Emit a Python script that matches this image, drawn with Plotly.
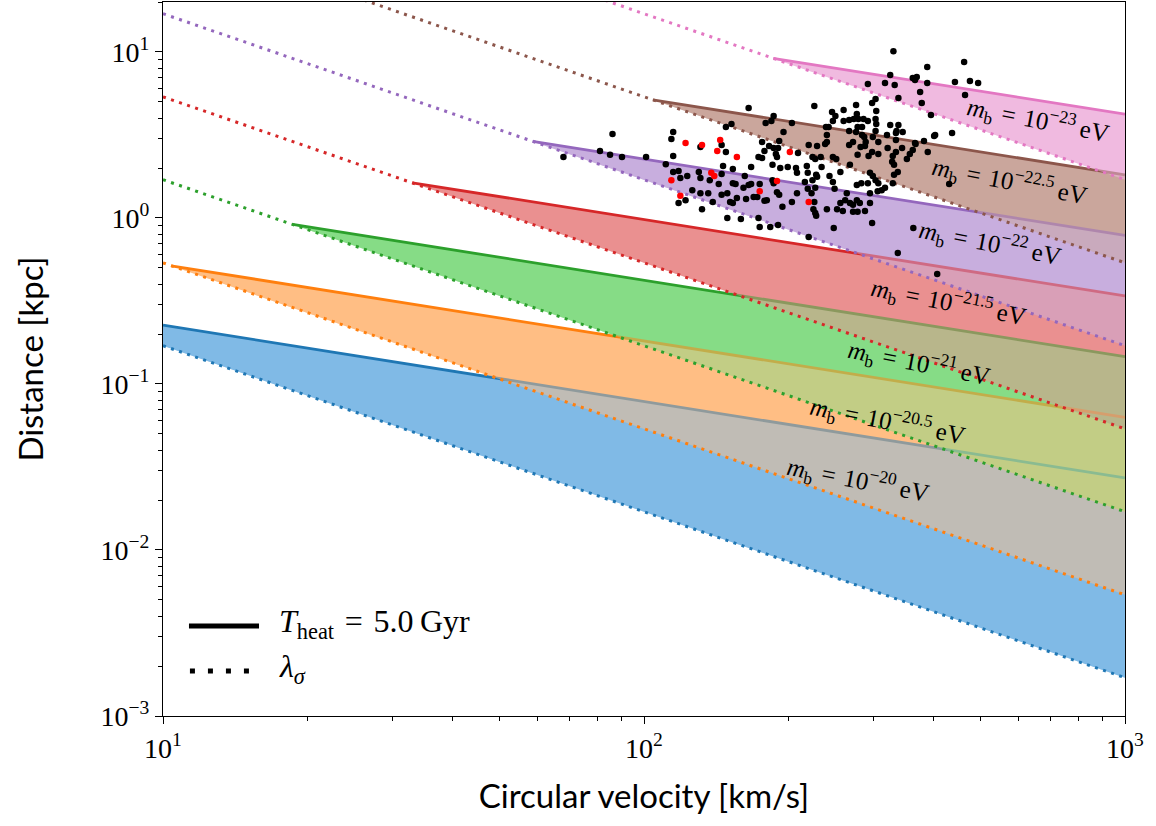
import numpy as np
import plotly.graph_objects as go

# ---------------- data ----------------
mass_exponents = ["−20", "−20.5", "−21", "−21.5", "−22", "−22.5", "−23"]
line_colors = ["#1f77b4", "#ff7f0e", "#2ca02c", "#d62728", "#9467bd", "#8c564b", "#e377c2"]
fill_colors = [(128, 186, 230), (255, 190, 132), (134, 220, 134), (234, 144, 144),
               (200, 174, 222), (202, 166, 156), (240, 186, 224)]

v_min, v_max = 10.0, 1000.0
# T_heat = 5 Gyr curve: start point and value at v = 1000 km/s
v_heat_start = [10.0, 10.4, 18.6, 33.0, 58.7, 104.3, 185.6]
r_heat_start = [0.226, 0.515, 0.915, 1.63, 2.89, 5.15, 9.15]
r_heat_end = [0.0272, 0.063, 0.146, 0.339, 0.785, 1.82, 4.22]
# lambda_sigma curve: values at v = 10 and v = 1000 km/s
r_lambda_10 = [0.170, 0.537, 1.70, 5.37, 17.0, 53.7, 170.0]
r_lambda_1000 = [0.0017, 0.00537, 0.017, 0.0537, 0.170, 0.537, 1.70]
# lambda_sigma value at the start of each band
r_lambda_start = [0.170, 0.515, 0.915, 1.63, 2.89, 5.15, 9.15]

# label positions
label_v = [279, 321, 373, 429, 524, 574, 659]
label_r = [0.0264, 0.0598, 0.134, 0.312, 0.707, 1.67, 3.89]

# galaxies
black_v = [68, 81, 85, 90, 101, 115, 86, 115, 114, 131, 145, 148, 148, 152, 165, 173,
           330, 388, 463, 325, 362, 369, 366, 292, 317, 332, 388, 443, 476, 495, 375, 338, 378, 465,
           303, 298, 276, 226, 395, 304, 260, 246,
           186, 184, 179, 203, 250, 277, 267, 260, 273, 279, 247, 286, 292, 303, 304, 242, 239, 325,
           338, 284, 278, 276, 267, 303, 335, 345, 334, 240, 320, 195, 284, 287, 299, 403, 437, 334,
           382, 191, 176, 240, 238, 272, 307, 289, 288, 220, 229, 367, 267, 282, 321, 344, 182, 186,
           190, 178, 188, 209, 389, 362, 298, 307, 278, 293, 329, 224, 233, 247, 251, 189, 357,
           227, 328, 331, 334, 176, 185, 167, 192, 199, 207, 218, 234, 208, 219, 228, 256, 268, 185,
           186, 174, 167, 216, 224, 229, 247, 243, 277, 283, 295, 299, 303, 292, 307, 329, 337, 331,
           431, 172, 178, 180, 189, 191, 208, 223, 227, 219, 249, 264, 295, 306, 317, 312, 203, 194,
           226, 225, 227, 228, 240, 256, 262, 268, 277, 281, 272, 252, 259, 272, 278, 288, 295,
           173, 174, 183, 190, 248, 298, 220, 337, 407, 363,
           111, 146, 153, 115, 118, 119, 123, 130, 131, 137, 145, 162, 143, 153, 155, 165, 161, 126,
           131, 136, 145, 149, 156, 163, 169, 122, 118, 139, 151, 153, 132, 149, 159,
           366, 352, 401]
black_r = [2.33, 2.53, 2.40, 2.33, 2.33, 2.36, 3.21, 3.30, 2.99, 2.68, 2.75, 2.50, 3.53, 3.68, 4.60, 2.33,
           10.1, 8.12, 8.71, 7.27, 6.97, 7.07, 6.78, 6.42, 6.51, 6.33, 6.51, 6.60, 6.69, 6.51, 5.74, 5.28, 4.93, 5.51,
           5.21, 4.93, 4.79, 4.73, 4.17, 4.41, 4.47, 4.35,
           4.12, 3.84, 3.74, 3.74, 4.12, 4.23, 3.89, 3.84, 3.95, 3.95, 3.84, 3.95, 3.84, 3.95, 3.68, 3.53, 3.53, 3.63,
           3.63, 3.53, 3.53, 3.30, 3.34, 3.34, 3.34, 3.30, 3.25, 3.16, 3.16, 3.30, 3.16, 3.08, 3.08, 3.16, 3.25, 2.95,
           2.91, 2.91, 2.87, 2.87, 2.79, 2.87, 2.87, 2.87, 2.71, 2.75, 2.71, 2.79, 2.75, 2.68, 2.64, 2.64, 2.71, 2.64,
           2.64, 2.53, 2.43, 2.46, 2.50, 2.57, 2.50, 2.43, 2.40, 2.36, 2.36, 2.33, 2.33, 2.33, 2.27, 2.33, 2.43,
           2.27, 2.18, 2.09, 2.50, 2.30, 2.09, 2.03, 2.00, 2.03, 2.00, 2.06, 2.03, 1.87, 1.87, 1.82, 1.89, 2.09, 1.69,
           1.62, 1.60, 1.60, 1.65, 1.69, 1.77, 1.65, 1.79, 1.58, 1.62, 1.87, 1.79, 1.69, 1.62, 1.62, 1.62, 1.89, 1.82,
           1.60, 1.34, 1.27, 1.28, 1.43, 1.38, 1.41, 1.41, 1.52, 1.50, 1.50, 1.41, 1.41, 1.45, 1.52, 1.47, 1.25, 1.17,
           1.25, 1.13, 1.07, 1.03, 1.13, 1.23, 1.28, 1.23, 1.28, 1.23, 1.20, 1.13, 1.10, 1.09, 1.09, 1.10, 1.23,
           1.00, 0.883, 0.883, 0.908, 0.871, 0.933, 0.768, 0.615, 0.460, 0.871,
           2.11, 2.06, 1.97, 1.89, 1.92, 1.74, 1.79, 1.89, 1.74, 1.69, 1.84, 1.79, 1.60, 1.62, 1.60, 1.58, 1.52, 1.47,
           1.41, 1.41, 1.38, 1.41, 1.32, 1.30, 1.34, 1.28, 1.23, 1.25, 1.25, 1.23, 1.13, 1.00, 0.986,
           2.83, 2.27, 3.12]
red_v = [122, 144, 132, 142, 156, 201, 189, 174, 220, 114, 138, 140, 119]
red_r = [2.83, 2.95, 2.75, 2.53, 2.33, 2.50, 1.67, 1.45, 1.25, 1.69, 1.87, 1.79, 1.36]

# ---------------- figure ----------------
SERIF = "Liberation Serif, Times New Roman, serif"
SANS = "Lato, Roboto, sans-serif"
SP = "\u2004"
THIN = "\u2009"

fig = go.Figure()
n = len(line_colors)


def band_polygon(k):
    xs = [v_heat_start[k], v_max, v_max, v_heat_start[k]]
    ys = [r_heat_start[k], r_heat_end[k], r_lambda_1000[k], r_lambda_start[k]]
    return xs, ys


def log_poly(k):
    xs, ys = band_polygon(k)
    return [(np.log10(a), np.log10(b)) for a, b in zip(xs, ys)]


def signed_area(p):
    return 0.5 * sum(p[i][0] * p[(i + 1) % len(p)][1] - p[(i + 1) % len(p)][0] * p[i][1]
                     for i in range(len(p)))


def clip(subject, clipper):
    # Sutherland-Hodgman for convex clipper
    if not subject:
        return []
    sgn = 1 if signed_area(clipper) > 0 else -1
    out = subject
    for i in range(len(clipper)):
        a, b = clipper[i], clipper[(i + 1) % len(clipper)]

        def inside(p):
            return sgn * ((b[0] - a[0]) * (p[1] - a[1]) - (b[1] - a[1]) * (p[0] - a[0])) >= 0

        def inter(p, q):
            x1, y1, x2, y2 = p[0], p[1], q[0], q[1]
            x3, y3, x4, y4 = a[0], a[1], b[0], b[1]
            den = (x1 - x2) * (y3 - y4) - (y1 - y2) * (x3 - x4)
            t = ((x1 - x3) * (y3 - y4) - (y1 - y3) * (x3 - x4)) / den
            return (x1 + t * (x2 - x1), y1 + t * (y2 - y1))

        inp = out
        out = []
        if not inp:
            break
        s = inp[-1]
        for e in inp:
            if inside(e):
                if not inside(s):
                    out.append(inter(s, e))
                out.append(e)
            elif inside(s):
                out.append(inter(s, e))
            s = e
    return out


# triple overlaps: there the colour shows only the two top bands
corrections = {k: [] for k in range(n)}
for i in range(n):
    for j in range(i + 1, n):
        for k in range(j + 1, n):
            p = clip(clip(log_poly(i), log_poly(j)), log_poly(k))
            if len(p) >= 3 and abs(signed_area(p)) > 1e-6:
                corrections[i].append((p, j))

# opaque base layers (lowest band on top)
for k in reversed(range(n)):
    xs, ys = band_polygon(k)
    c = fill_colors[k]
    fig.add_trace(go.Scatter(x=xs + xs[:1], y=ys + ys[:1], mode="lines", fill="toself",
                             fillcolor=f"rgb({c[0]},{c[1]},{c[2]})",
                             line=dict(width=0), hoverinfo="skip", showlegend=False))

# translucent layers + lines, in band order
for k in range(n):
    xs, ys = band_polygon(k)
    c = fill_colors[k]
    fig.add_trace(go.Scatter(x=xs + xs[:1], y=ys + ys[:1], mode="lines", fill="toself",
                             fillcolor=f"rgba({c[0]},{c[1]},{c[2]},0.5)",
                             line=dict(width=0), hoverinfo="skip", showlegend=False))
    for p, j in corrections[k]:
        cj = fill_colors[j]
        px = [10 ** q[0] for q in p] + [10 ** p[0][0]]
        py = [10 ** q[1] for q in p] + [10 ** p[0][1]]
        fig.add_trace(go.Scatter(x=px, y=py, mode="lines", fill="toself",
                                 fillcolor=f"rgb({cj[0]},{cj[1]},{cj[2]})",
                                 line=dict(width=0), hoverinfo="skip", showlegend=False))
    fig.add_trace(go.Scatter(x=[v_heat_start[k], v_max], y=[r_heat_start[k], r_heat_end[k]],
                             mode="lines", line=dict(color=line_colors[k], width=2.8),
                             showlegend=False))
    fig.add_trace(go.Scatter(x=[v_min, v_max], y=[r_lambda_10[k], r_lambda_1000[k]],
                             mode="lines", line=dict(color=line_colors[k], width=3, dash="3px,5.5px"),
                             showlegend=False))

fig.add_trace(go.Scatter(x=black_v, y=black_r, mode="markers",
                         marker=dict(color="black", size=6.5, line=dict(width=0)), showlegend=False))
fig.add_trace(go.Scatter(x=red_v, y=red_r, mode="markers",
                         marker=dict(color="red", size=6.5, line=dict(width=0)), showlegend=False))

# band labels
for k in range(n):
    fig.add_annotation(x=np.log10(label_v[k]), y=np.log10(label_r[k]), xref="x", yref="y",
                       text=f"<i>m</i><sub>b</sub>{SP}={SP}10<sup>{mass_exponents[k]}</sup>{THIN}eV",
                       textangle=11, showarrow=False,
                       font=dict(family=SERIF, size=25, color="black"))

# legend drawn by hand
fig.add_shape(type="line", xref="paper", yref="paper", x0=0.027, x1=0.0998, y0=0.126, y1=0.126,
              line=dict(color="black", width=5))
fig.add_shape(type="line", xref="paper", yref="paper", x0=0.028, x1=0.092, y0=0.063, y1=0.063,
              line=dict(color="black", width=5, dash="5px,13px"))
fig.add_annotation(xref="paper", yref="paper", x=0.119, y=0.129, xanchor="left", yanchor="middle",
                   text=f"<i>T</i><sub>heat</sub>{SP}={SP}5.0{THIN}Gyr", showarrow=False,
                   font=dict(family=SERIF, size=32, color="black"))
fig.add_annotation(xref="paper", yref="paper", x=0.119, y=0.066, xanchor="left", yanchor="middle",
                   text="<i>λ</i><sub><i>σ</i></sub>", showarrow=False,
                   font=dict(family=SERIF, size=32, color="black"))

x_ticks = [10, 100, 1000]
x_ticktext = ["10<sup>1</sup>", "10<sup>2</sup>", "10<sup>3</sup>"]
y_ticks = [1e-3, 1e-2, 1e-1, 1, 10]
y_ticktext = ["10<sup>−3</sup>", "10<sup>−2</sup>", "10<sup>−1</sup>", "10<sup>0</sup>", "10<sup>1</sup>"]
x_minor = [m * 10 ** e for e in (1, 2) for m in range(2, 10)]
y_minor = [m * 10.0 ** e for e in (-3, -2, -1, 0, 1) for m in range(2, 10) if m * 10.0 ** e <= 20]

axis_common = dict(type="log", showgrid=False, zeroline=False, showline=True, linecolor="black",
                   linewidth=1.3, mirror=True, ticks="outside", ticklen=7, tickwidth=1.3,
                   tickcolor="black", tickmode="array",
                   tickfont=dict(family=SERIF, size=28, color="black"))

fig.update_xaxes(**axis_common, range=[1, 3], tickvals=x_ticks, ticktext=x_ticktext,
                 minor=dict(tickmode="array", tickvals=x_minor, ticks="outside", ticklen=4,
                            tickwidth=1, tickcolor="black", showgrid=False),
                 title=dict(text="Circular velocity [km/s]", font=dict(family=SANS, size=33, color="black"),
                            standoff=22))
fig.update_yaxes(**axis_common, range=[-3, np.log10(20)], tickvals=y_ticks, ticktext=y_ticktext,
                 minor=dict(tickmode="array", tickvals=y_minor, ticks="outside", ticklen=4,
                            tickwidth=1, tickcolor="black", showgrid=False),
                 title=dict(text="Distance [kpc]", font=dict(family=SANS, size=33, color="black"),
                            standoff=46))

fig.update_layout(width=1156, height=826, margin=dict(l=163, r=31, t=2, b=110),
                  plot_bgcolor="white", paper_bgcolor="white", showlegend=False)

fig.write_html("out.html")
